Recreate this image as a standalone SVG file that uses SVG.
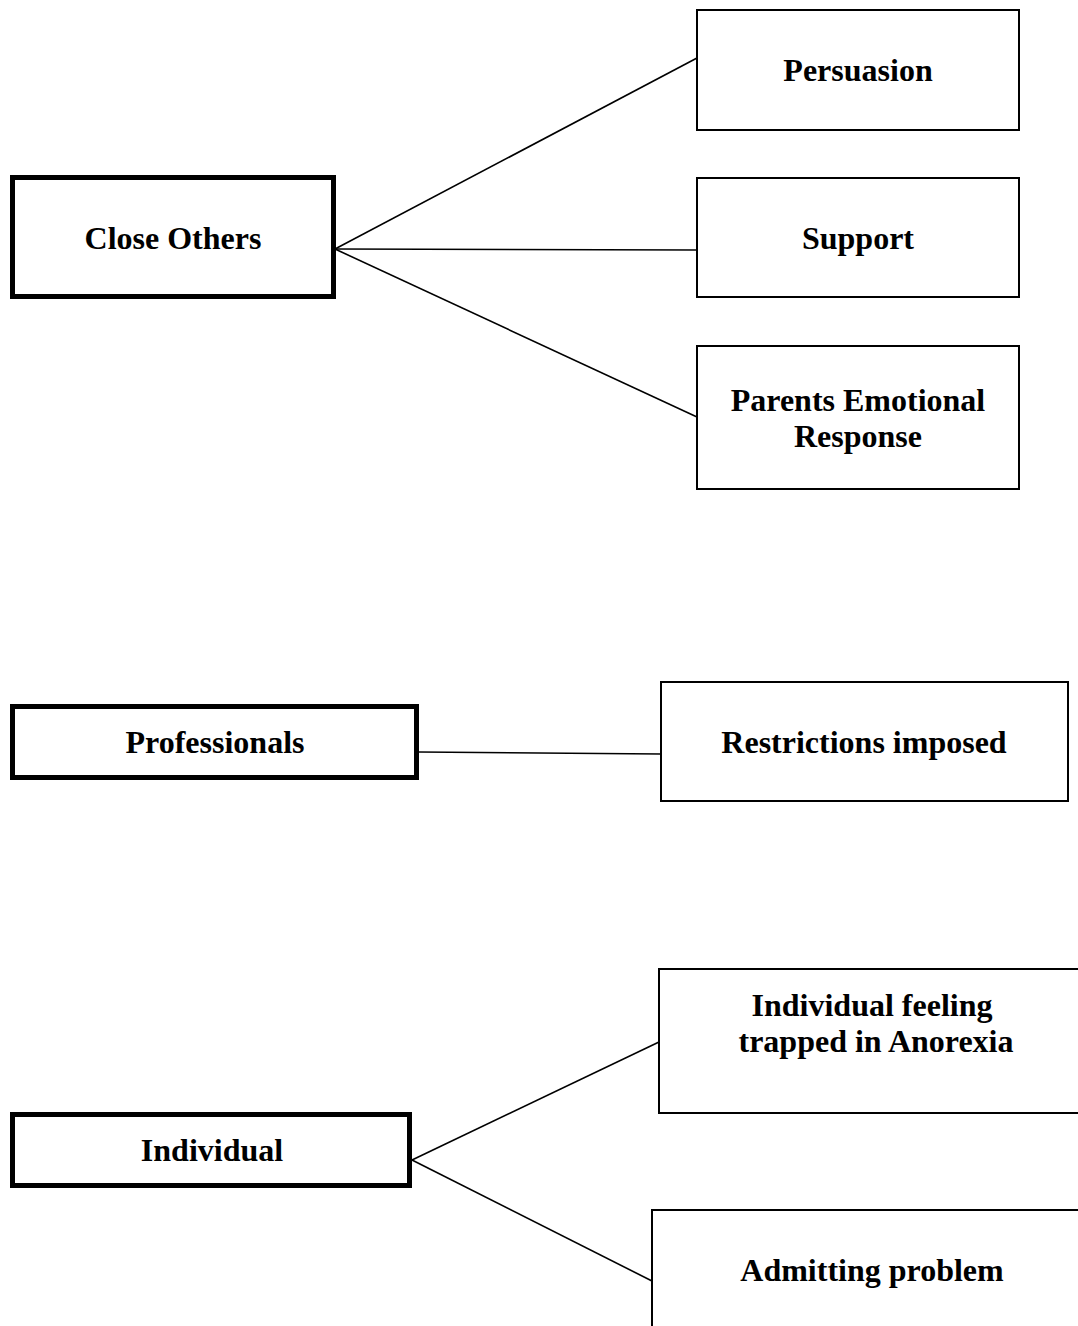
<svg xmlns="http://www.w3.org/2000/svg" width="1078" height="1326" viewBox="0 0 1078 1326">
<style>
.bg{fill:#ffffff}
.thick{fill:#ffffff;stroke:#000000;stroke-width:5}
.thin{fill:#ffffff;stroke:#000000;stroke-width:2}
.conn{stroke:#000000;stroke-width:1.6;fill:none}
.lbl{font-family:"Liberation Serif","Times New Roman",serif;font-weight:bold;font-size:32px;fill:#000000;text-anchor:middle}
</style>
<rect class="bg" x="0" y="0" width="1078" height="1326"/>
<g id="connectors">
<line class="conn" x1="335" y1="249" x2="697" y2="58"/>
<line class="conn" x1="335" y1="249" x2="697" y2="250"/>
<line class="conn" x1="335" y1="249" x2="697" y2="417"/>
<line class="conn" x1="419" y1="752" x2="661" y2="754"/>
<line class="conn" x1="412" y1="1160" x2="659" y2="1042"/>
<line class="conn" x1="412" y1="1160" x2="652" y2="1281"/>
</g>
<g id="close-others">
<rect class="thick" x="12.5" y="177.5" width="321" height="119"/>
<text class="lbl" x="173" y="249">Close Others</text>
</g>
<g id="persuasion">
<rect class="thin" x="697" y="10" width="322" height="120"/>
<text class="lbl" x="858" y="81">Persuasion</text>
</g>
<g id="support">
<rect class="thin" x="697" y="178" width="322" height="119"/>
<text class="lbl" x="858" y="249">Support</text>
</g>
<g id="parents-emotional-response">
<rect class="thin" x="697" y="346" width="322" height="143"/>
<text class="lbl" x="858" y="411">Parents Emotional</text>
<text class="lbl" x="858" y="447">Response</text>
</g>
<g id="professionals">
<rect class="thick" x="12.5" y="706.5" width="404" height="71"/>
<text class="lbl" x="215" y="753">Professionals</text>
</g>
<g id="restrictions-imposed">
<rect class="thin" x="661" y="682" width="407" height="119"/>
<text class="lbl" x="864" y="753">Restrictions imposed</text>
</g>
<g id="individual">
<rect class="thick" x="12.5" y="1114.5" width="397" height="71"/>
<text class="lbl" x="212" y="1161">Individual</text>
</g>
<g id="individual-feeling-trapped">
<rect class="thin" x="659" y="969" width="460" height="144"/>
<text class="lbl" x="872" y="1016">Individual feeling</text>
<text class="lbl" x="876" y="1052">trapped in Anorexia</text>
</g>
<g id="admitting-problem">
<rect class="thin" x="652" y="1210" width="460" height="160"/>
<text class="lbl" x="872" y="1281">Admitting problem</text>
</g>
</svg>
